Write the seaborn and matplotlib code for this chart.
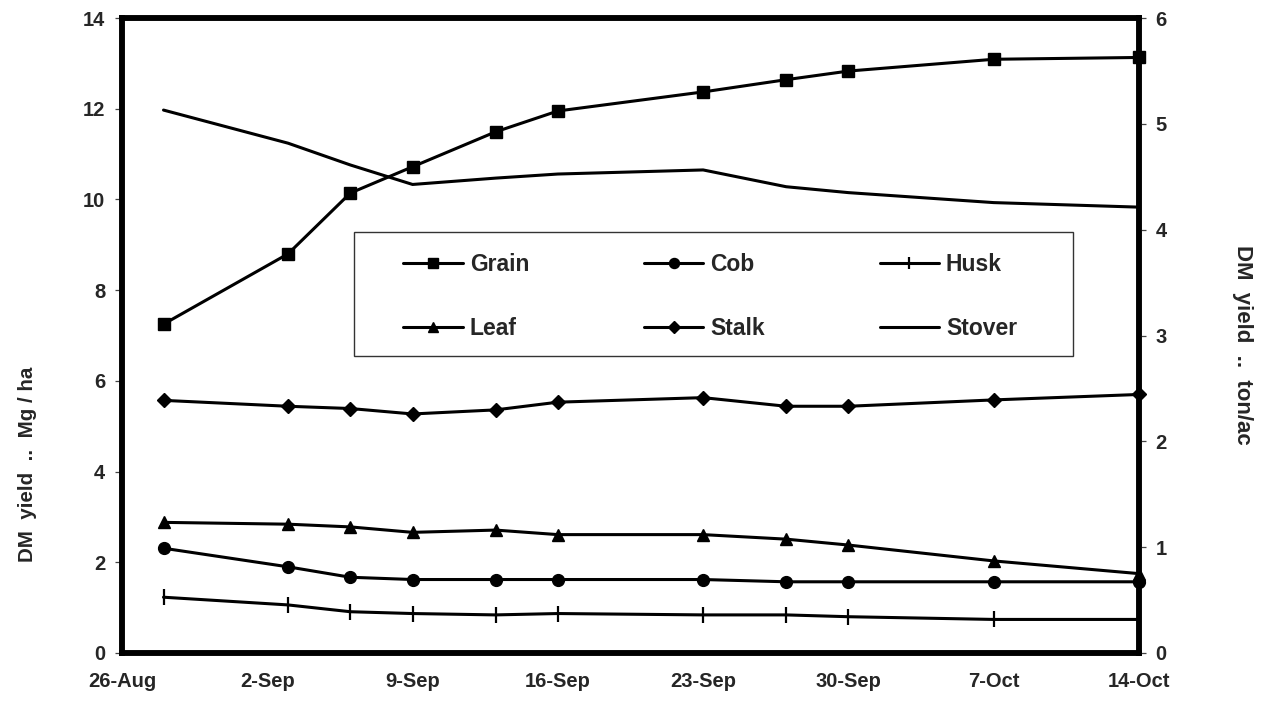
import numpy as np
import pandas as pd
import matplotlib
matplotlib.use("Agg")
import matplotlib.pyplot as plt
import seaborn as sns
from matplotlib.patches import Rectangle

# ---- data ----
dates = ["2004-08-28", "2004-09-03", "2004-09-06", "2004-09-09", "2004-09-13",
         "2004-09-16", "2004-09-23", "2004-09-27", "2004-09-30", "2004-10-07",
         "2004-10-14"]
grain = [7.25, 8.80, 10.14, 10.72, 11.49, 11.95, 12.37, 12.64, 12.83, 13.09, 13.13]
cob = [2.31, 1.90, 1.67, 1.62, 1.62, 1.62, 1.62, 1.57, 1.57, 1.57, 1.57]
husk = [1.23, 1.06, 0.91, 0.87, 0.84, 0.87, 0.84, 0.84, 0.80, 0.74, 0.74]
leaf = [2.88, 2.84, 2.78, 2.66, 2.71, 2.61, 2.61, 2.51, 2.38, 2.03, 1.75]
stalk = [5.57, 5.44, 5.39, 5.27, 5.36, 5.53, 5.63, 5.44, 5.44, 5.58, 5.70]
stover = [11.97, 11.24, 10.76, 10.33, 10.47, 10.56, 10.65, 10.28, 10.15, 9.93, 9.83]

tick_dates = ["2004-08-26", "2004-09-02", "2004-09-09", "2004-09-16",
              "2004-09-23", "2004-09-30", "2004-10-07", "2004-10-14"]
tick_labels = ["26-Aug", "2-Sep", "9-Sep", "16-Sep", "23-Sep", "30-Sep", "7-Oct", "14-Oct"]
left_ticks = [0, 2, 4, 6, 8, 10, 12, 14]
right_ticks = [0, 1, 2, 3, 4, 5, 6]

series = {"Grain": grain, "Cob": cob, "Husk": husk,
          "Leaf": leaf, "Stalk": stalk, "Stover": stover}
markers = {"Grain": ("s", 8.5), "Cob": ("o", 8.5), "Husk": ("|", 11),
           "Leaf": ("^", 9), "Stalk": ("D", 7.5), "Stover": (None, 0)}

sns.set_style("white")
plt.rcParams["font.family"] = ["Liberation Sans", "DejaVu Sans"]
plt.rcParams["font.weight"] = "bold"

fig = plt.figure(figsize=(12.78, 7.02), dpi=100)
W, H = 1278, 702
x0, x1, y0, y1 = 122, 1139, 18, 653
ax = fig.add_axes([x0 / W, 1 - y1 / H, (x1 - x0) / W, (y1 - y0) / H])

x = pd.to_datetime(dates)
handles = {}
for name, vals in series.items():
    m, ms = markers[name]
    kw = dict(color="black", linewidth=2.2, ax=ax, clip_on=False)
    if m is not None:
        kw.update(marker=m, markersize=ms, markeredgecolor="black",
                  markerfacecolor="black",
                  markeredgewidth=1.6 if m == "|" else 1.0)
    sns.lineplot(x=x, y=vals, **kw)
    handles[name] = ax.lines[-1]

if ax.get_legend() is not None:
    ax.get_legend().remove()

td = pd.to_datetime(tick_dates)
ax.set_xlim(td[0], td[-1])
ax.set_ylim(0, 14)
ax.set_xticks(td)
ax.set_xticklabels(tick_labels)
ax.set_yticks(left_ticks)
ax.set_xlabel("")
ax.set_ylabel("")

ax2 = ax.twinx()
ax2.set_ylim(0, 6)
ax2.set_yticks(right_ticks)

for a in (ax, ax2):
    for s in a.spines.values():
        s.set_linewidth(4)
        s.set_color("black")
        s.set_visible(True)

ax.tick_params(axis="x", direction="inout", length=11, width=0.9, color="#444444",
               labelsize=14.5, pad=8)
ax.tick_params(axis="y", direction="out", length=5, width=0.9, color="#444444",
               labelsize=14.5, pad=7, left=True)
ax2.tick_params(axis="y", direction="out", length=5, width=0.9, color="#444444",
                labelsize=14.5, pad=7, right=True)
for lab in ax.get_xticklabels() + ax.get_yticklabels() + ax2.get_yticklabels():
    lab.set_fontweight("bold")

fig.text(28 / W, 1 - 464 / H, "DM  yield  ..  Mg / ha", rotation=90,
         ha="center", va="center", fontsize=14.8, fontweight="bold")
fig.text(1243 / W, 1 - 345 / H, "DM  yield  ..  ton/ac", rotation=270,
         ha="center", va="center", fontsize=16, fontweight="bold")

# legend box
fig.patches.append(Rectangle((354 / W, 1 - 356 / H), (1073 - 354) / W, (356 - 232) / H,
                             transform=fig.transFigure, fill=True, facecolor="white",
                             edgecolor="#333333", linewidth=1.0, zorder=3))
order = ["Grain", "Leaf", "Cob", "Stalk", "Husk", "Stover"]
leg = fig.legend([handles[n] for n in order], order, ncol=3, frameon=False,
                 loc="center left", bbox_to_anchor=(392 / W, 1 - 296.5 / H),
                 borderpad=0, handlelength=2.6, handletextpad=0.3,
                 columnspacing=5.0, labelspacing=1.75, markerscale=0.85,
                 prop={"size": 16.5, "weight": "bold"})
leg.set_zorder(4)

fig.savefig("out.png", dpi=100)
